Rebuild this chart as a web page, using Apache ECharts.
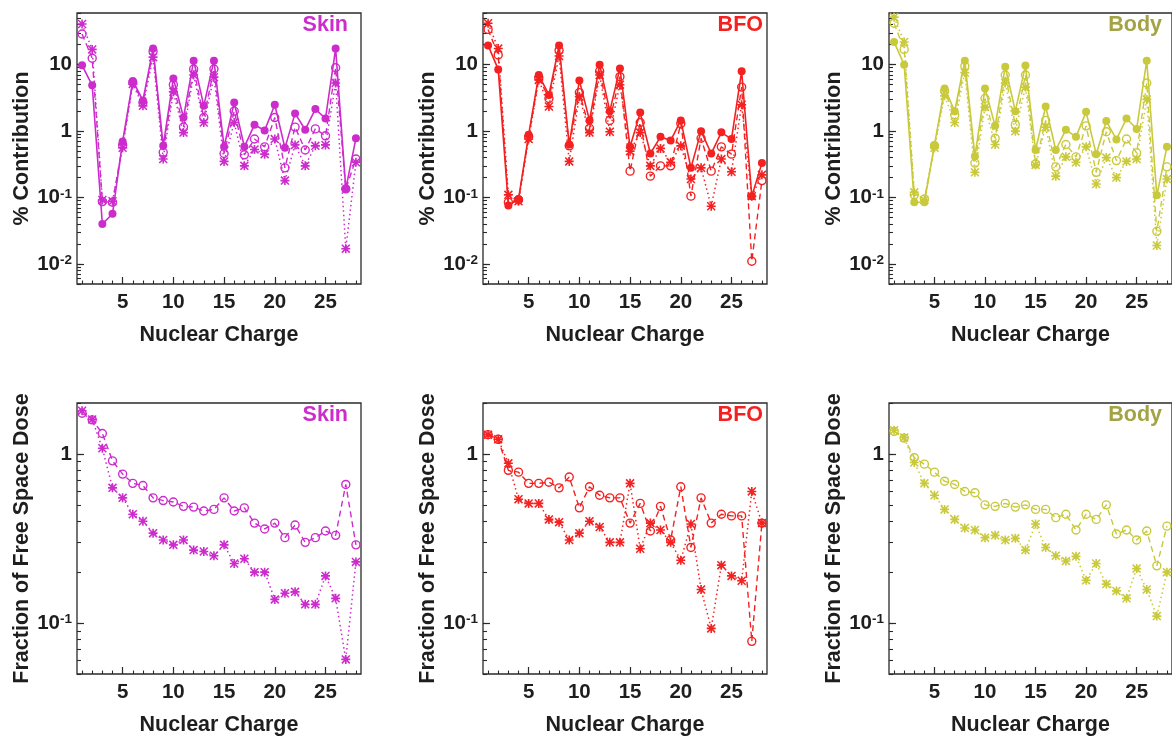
<!DOCTYPE html>
<html>
<head>
<meta charset="utf-8">
<script src="https://cdn.jsdelivr.net/npm/echarts@6/dist/echarts.min.js"></script>
<style>
html,body{margin:0;padding:0;background:#fff;}
#chart{width:1172px;height:738px;}
</style>
</head>
<body>
<div id="chart"></div>
<script>
// ---------------- data ----------------
const nuclearCharge = [1,2,3,4,5,6,7,8,9,10,11,12,13,14,15,16,17,18,19,20,21,22,23,24,25,26,27,28];
const xTickLabels = [5,10,15,20,25];
const contribTickLabels = [0.01,0.1,1,10];
const doseTickLabels = [0.1,1];

const skinContribSolid = [9.8,4.9,0.040,0.057,0.70,5.7,2.9,17.5,0.60,6.2,1.6,11.5,2.4,11.5,0.58,2.7,0.58,1.25,1.02,2.5,0.56,1.85,1.05,2.15,1.55,17.5,0.135,0.78];
const skinContribOpen  = [29,12.5,0.087,0.085,0.62,5.4,2.7,16,0.48,5.0,1.15,8.6,1.6,8.6,0.46,2.0,0.44,0.76,0.58,1.6,0.28,1.15,0.52,1.08,0.85,9.0,0.135,0.38];
const skinContribStar  = [41,17,0.092,0.088,0.56,5.1,2.4,13,0.38,3.9,0.95,7.0,1.35,6.5,0.35,1.35,0.30,0.53,0.45,0.76,0.18,0.62,0.30,0.60,0.62,5.3,0.017,0.34];

const bfoContribSolid = [19.5,8.5,0.076,0.095,0.88,7.0,3.5,19.5,0.63,5.8,1.45,10,2.0,8.8,0.58,1.9,0.46,0.82,0.72,1.45,0.28,1.0,0.46,0.96,0.76,8.0,0.105,0.33];
const bfoContribOpen  = [34,14,0.085,0.092,0.82,6.4,3.1,16.5,0.60,3.8,1.1,8.0,1.45,6.6,0.25,1.35,0.21,0.30,0.30,1.3,0.105,0.78,0.25,0.58,0.45,4.6,0.011,0.18];
const bfoContribStar  = [42,17.5,0.11,0.088,0.76,5.9,2.35,13.5,0.35,3.3,0.95,7.0,0.98,5.0,0.50,0.95,0.30,0.55,0.34,0.60,0.19,0.28,0.074,0.38,0.245,2.5,0.105,0.22];

const bodyContribSolid = [22,10,0.085,0.085,0.62,4.4,2.0,11.5,0.42,4.4,1.2,9.3,2.0,9.7,0.52,2.35,0.52,1.05,0.82,1.95,0.45,1.42,0.75,1.55,1.08,11.5,0.108,0.58];
const bodyContribOpen  = [42,17,0.11,0.095,0.60,4.0,1.75,9.5,0.33,3.1,0.78,7.0,1.25,7.0,0.32,1.45,0.29,0.63,0.41,1.2,0.24,0.98,0.36,0.76,0.47,5.3,0.031,0.29];
const bodyContribStar  = [52,22,0.12,0.092,0.56,3.4,1.35,7.6,0.24,2.3,0.63,5.3,1.0,4.6,0.31,1.15,0.21,0.41,0.34,0.58,0.16,0.40,0.20,0.35,0.38,3.0,0.019,0.19];

const skinDoseOpen = [1.74,1.59,1.32,0.91,0.76,0.67,0.65,0.55,0.53,0.52,0.49,0.485,0.46,0.47,0.55,0.46,0.48,0.39,0.36,0.39,0.32,0.38,0.30,0.32,0.35,0.33,0.66,0.29];
const skinDoseStar = [1.8,1.6,1.08,0.63,0.55,0.44,0.40,0.34,0.31,0.29,0.31,0.27,0.265,0.25,0.29,0.225,0.24,0.20,0.20,0.138,0.15,0.153,0.129,0.129,0.19,0.14,0.061,0.23];
const bfoDoseOpen  = [1.3,1.22,0.80,0.78,0.67,0.67,0.68,0.63,0.73,0.48,0.64,0.57,0.55,0.55,0.39,0.51,0.35,0.49,0.31,0.64,0.28,0.55,0.39,0.44,0.43,0.43,0.078,0.39];
const bfoDoseStar  = [1.3,1.22,0.88,0.54,0.51,0.51,0.41,0.395,0.31,0.34,0.40,0.37,0.30,0.30,0.67,0.275,0.39,0.355,0.30,0.235,0.385,0.158,0.093,0.22,0.19,0.178,0.60,0.39];
const bodyDoseOpen = [1.36,1.24,0.95,0.87,0.78,0.69,0.66,0.60,0.59,0.50,0.49,0.51,0.485,0.50,0.47,0.47,0.42,0.44,0.355,0.44,0.41,0.50,0.336,0.355,0.31,0.35,0.218,0.374];
const bodyDoseStar = [1.38,1.25,0.89,0.67,0.57,0.47,0.41,0.365,0.355,0.32,0.33,0.31,0.317,0.27,0.385,0.28,0.25,0.233,0.248,0.179,0.225,0.17,0.155,0.14,0.21,0.158,0.11,0.20];

// ---------------- styling / layout ----------------
const FONT = "'Liberation Sans', Arial, Helvetica, sans-serif";
const TXT = '#1e1e1e';
const COL = {skin:'#cc2ccc', bfo:'#f52020', body:'#c9c93c'};
const TITLE_COL = {skin:'#cc2ccc', bfo:'#f52020', body:'#a3a345'};
const ASTER = 'path://M0,4.1L10,4.1L10,5.9L0,5.9Z M4.1,0L5.9,0L5.9,10L4.1,10Z M1.2,0L10,8.8L8.8,10L0,1.2Z M8.8,0L10,1.2L1.2,10L0,8.8Z';

function minorLog(lo, hi){
  const out=[];
  for(let e=-3;e<=2;e++){
    for(let m=1;m<=9;m++){
      const v = +(m*Math.pow(10,e)).toPrecision(3);
      if(v>=lo && v<=hi) out.push(v);
    }
  }
  return out;
}
function logLabel(v){
  const e = Math.round(Math.log10(v));
  if(e===0) return '1';
  if(e===1) return '10';
  return '10{sup|' + e + '}';
}

const colLeft = [77, 483, 889];
const rowTop = [13, 403];
const W = 284, H = 271;
const rows = [
  {min:0.005, max:60, ticks:contribTickLabels, name:'% Contribution'},
  {min:0.05, max:2, ticks:doseTickLabels, name:'Fraction of Free Space Dose'}
];
const panels = [
  {r:0,c:0,key:'skin',label:'Skin',right:1172-348, sets:[['solid',skinContribSolid],['open',skinContribOpen],['star',skinContribStar]]},
  {r:0,c:1,key:'bfo', label:'BFO', right:1172-763, sets:[['solid',bfoContribSolid],['open',bfoContribOpen],['star',bfoContribStar]]},
  {r:0,c:2,key:'body',label:'Body',right:10, sets:[['solid',bodyContribSolid],['open',bodyContribOpen],['star',bodyContribStar]]},
  {r:1,c:0,key:'skin',label:'Skin',right:1172-348, sets:[['open',skinDoseOpen],['star',skinDoseStar]]},
  {r:1,c:1,key:'bfo', label:'BFO', right:1172-763, sets:[['open',bfoDoseOpen],['star',bfoDoseStar]]},
  {r:1,c:2,key:'body',label:'Body',right:10, sets:[['open',bodyDoseOpen],['star',bodyDoseStar]]}
];

const option = {animation:false, backgroundColor:'#fff', grid:[], xAxis:[], yAxis:[], series:[], title:[]};
const labelStyle = {fontFamily:FONT, fontWeight:'bold', fontSize:20.5, color:TXT};
const nameStyle = {fontFamily:FONT, fontWeight:'bold', fontSize:21.5, color:TXT};

panels.forEach((p,i)=>{
  const row = rows[p.r];
  option.grid.push({left:colLeft[p.c], top:rowTop[p.r], width:W, height:H, show:true,
    borderColor:'#2a2a2a', borderWidth:1.3, backgroundColor:'transparent', containLabel:false});
  // main x axis
  option.xAxis.push({type:'value', gridIndex:i, min:0.5, max:28.5, position:'bottom',
    axisLine:{show:false}, splitLine:{show:false},
    axisTick:{show:true, inside:true, length:7, customValues:xTickLabels, lineStyle:{color:'#2a2a2a', width:1.2}},
    axisLabel:Object.assign({customValues:xTickLabels, margin:8}, labelStyle),
    name:'Nuclear Charge', nameLocation:'middle', nameGap:40,
    nameTextStyle:nameStyle});
  // minor x ticks
  option.xAxis.push({type:'value', gridIndex:i, min:0.5, max:28.5, position:'bottom',
    axisLine:{show:false}, splitLine:{show:false}, axisLabel:{show:false},
    axisTick:{show:true, inside:true, length:3.5, customValues:nuclearCharge, lineStyle:{color:'#2a2a2a', width:1.1}}});
  // main y axis
  option.yAxis.push({type:'log', logBase:10, gridIndex:i, min:row.min, max:row.max, position:'left',
    axisLine:{show:false}, splitLine:{show:false},
    axisTick:{show:true, inside:true, length:7, customValues:row.ticks, lineStyle:{color:'#2a2a2a', width:1.2}},
    axisLabel:Object.assign({customValues:row.ticks, margin:5, formatter:logLabel,
      rich:{sup:{fontFamily:FONT, fontWeight:'bold', fontSize:13.5, color:TXT, verticalAlign:'top', padding:[0,0,7,0]}}}, labelStyle),
    name:row.name, nameLocation:'middle', nameGap:39,
    nameTextStyle:nameStyle});
  // minor y ticks
  option.yAxis.push({type:'log', logBase:10, gridIndex:i, min:row.min, max:row.max, position:'left',
    axisLine:{show:false}, splitLine:{show:false}, axisLabel:{show:false},
    axisTick:{show:true, inside:true, length:4, customValues:minorLog(row.min,row.max), lineStyle:{color:'#2a2a2a', width:1.1}}});

  option.title.push({text:p.label, right:p.right, top:rowTop[p.r]+1, padding:0,
    textStyle:{fontFamily:FONT, fontWeight:'bold', fontSize:21.5, color:TITLE_COL[p.key]}});

  const col = COL[p.key];
  p.sets.forEach(([kind, arr])=>{
    const s = {type:'line', xAxisIndex:2*i, yAxisIndex:2*i, z:kind==='solid'?4:3,
      data:nuclearCharge.map((z,k)=>[z, arr[k]]), clip:true};
    if(kind==='solid'){
      Object.assign(s,{symbol:'circle', symbolSize:8, itemStyle:{color:col},
        lineStyle:{color:col, width:1.6, type:'solid'}});
    } else if(kind==='open'){
      Object.assign(s,{symbol:'circle', symbolSize:8,
        itemStyle:{color:'rgba(255,255,255,0)', borderColor:col, borderWidth:1.4},
        lineStyle:{color:col, width:1.4, type:[6,4]}});
    } else {
      Object.assign(s,{symbol:ASTER, symbolSize:9, itemStyle:{color:col},
        lineStyle:{color:col, width:1.5, type:[1.5,3]}});
    }
    option.series.push(s);
  });
});

const chart = echarts.init(document.getElementById('chart'), null, {renderer:'canvas'});
chart.setOption(option);
</script>
</body>
</html>
